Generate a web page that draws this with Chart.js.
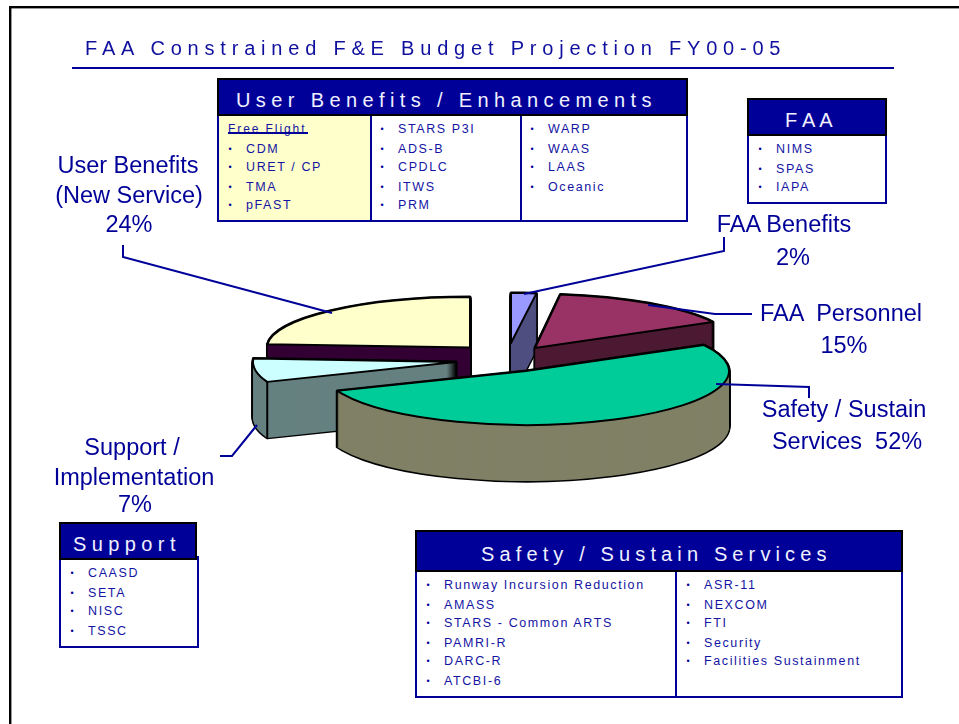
<!DOCTYPE html>
<html><head><meta charset="utf-8">
<script src="https://cdn.jsdelivr.net/npm/chart.js@4"></script>
<style>
html,body{margin:0;padding:0;background:#fff;width:959px;height:724px;overflow:hidden}
#stage{position:relative;width:959px;height:724px;font-family:"Liberation Sans",Arial,sans-serif;color:#000099}
#stage canvas{position:absolute;left:0;top:0}
.t{position:absolute;white-space:pre;line-height:normal}
.b{position:absolute;box-sizing:border-box}
</style></head><body>
<div id="stage"><canvas id="c" width="959" height="724"></canvas></div>
<script>
// ---- data ----
const categories = ["FAA Benefits","FAA Personnel","Safety / Sustain Services","Support / Implementation","User Benefits (New Service)"];
const shares = [2,15,52,7,24];
const topColors  = ["#9999ff","#993366","#00cc99","#ccffff","#ffffcc"];
const sideColors = ["#4f4f80","#4d1a33","#808066","#668080","#330033"];

const title = "FAA Constrained F&E Budget Projection FY00-05";
const userHead = "User Benefits / Enhancements";
const userCol1Head = "Free Flight";
const userCol1 = ["CDM","URET / CP","TMA","pFAST"];
const userCol2 = ["STARS P3I","ADS-B","CPDLC","ITWS","PRM"];
const userCol3 = ["WARP","WAAS","LAAS","Oceanic"];
const faaHead = "F A A";
const faaItems = ["NIMS","SPAS","IAPA"];
const supportHead = "Support";
const supportItems = ["CAASD","SETA","NISC","TSSC"];
const safetyHead = "Safety / Sustain Services";
const safetyCol1 = ["Runway Incursion Reduction","AMASS","STARS - Common ARTS","PAMRI-R","DARC-R","ATCBI-6"];
const safetyCol2 = ["ASR-11","NEXCOM","FTI","Security","Facilities Sustainment"];

// ---- layout of the exploded 3-D pie (styling, not data) ----
const PIE_RADIUS = 203, DEPTH = 56;
const sliceCentre = [[511,343,50],[535,348,54],[526,371,54],[456,362,54],[470,347.5,50.5]]; // x, y, vertical radius
const paintOrder = [4,0,1,3,2];
const frontEdge = [3];
const NAVY = "#000099";
const leaders = [
  [[123,245],[123,257],[332,313]],
  [[724,237],[724,251],[524,294]],
  [[752,314],[715,314],[648,305]],
  [[809,398],[809,387],[716,384]],
  [[220,456],[232,456],[257,425]]
];

const pie3d = {
  id:"pie3d",
  beforeDatasetsDraw(chart){
    const ctx = chart.ctx, arcs = chart.getDatasetMeta(0).data;
    const nativeStroke = ctx.stroke;
    // keep outlines an even thickness although the arc is drawn in a squashed space
    ctx.stroke = function(){ ctx.save(); ctx.setTransform(1,0,0,1,0,0); nativeStroke.call(ctx); ctx.restore(); };
    const stamp = (arc,i,d,fill,line,w)=>{
      const [tx,ty,ry] = sliceCentre[i], keep = arc.options;
      arc.options = {backgroundColor:fill,borderColor:line,borderWidth:w,borderAlign:"center",borderJoinStyle:"round",
        borderDash:[],borderDashOffset:0,offset:0,spacing:0,circular:true,selfJoin:false,borderRadius:0};
      ctx.save();
      ctx.translate(tx,ty+d);
      ctx.scale(1,ry/arc.outerRadius);
      ctx.translate(-arc.x,-arc.y);
      arc.draw(ctx);
      ctx.restore();
      arc.options = keep;
    };
    paintOrder.forEach(i=>{
      const arc = arcs[i], [tx,ty,ry] = sliceCentre[i];
      for(let d=DEPTH;d>=0;d--) stamp(arc,i,d,"#000","#000",3);
      for(let d=DEPTH;d>=0;d--) stamp(arc,i,d,sideColors[i],"#000",0);
      if(frontEdge.includes(i)){
        const x = tx+PIE_RADIUS*Math.cos(arc.startAngle), y = ty+ry*Math.sin(arc.startAngle);
        ctx.save(); ctx.strokeStyle="#000"; ctx.lineWidth=2;
        ctx.beginPath(); ctx.moveTo(x,y); ctx.lineTo(x,y+DEPTH); nativeStroke.call(ctx); ctx.restore();
      }
      stamp(arc,i,0,topColors[i],"#000",2);
    });
    delete ctx.stroke;
    // frame
    ctx.save();
    ctx.fillStyle="#000";
    ctx.fillRect(9,6,950,2.4); ctx.fillRect(9,6,2.4,718);
    ctx.fillStyle=NAVY; ctx.fillRect(72,67,822,2);
    ctx.strokeStyle=NAVY; ctx.lineWidth=2; ctx.lineJoin="miter";
    leaders.forEach(p=>{ctx.beginPath();p.forEach((q,k)=>k?ctx.lineTo(q[0],q[1]):ctx.moveTo(q[0],q[1]));ctx.stroke();});
    ctx.restore();
    return false;
  }
};

new Chart(document.getElementById("c"),{
  type:"pie",
  data:{labels:categories,datasets:[{data:shares,backgroundColor:topColors,borderWidth:0,radius:PIE_RADIUS}]},
  options:{responsive:false,animation:false,events:[],rotation:0,layout:{padding:0},
    plugins:{legend:{display:false},tooltip:{enabled:false},title:{display:false}}},
  plugins:[pie3d]
});

// ---- boxes and text as real DOM text ----
const stage = document.getElementById("stage");
function rect(x0,y0,x1,y1,bg,bc,bw){
  const e=document.createElement("div");e.className="b";
  e.style.cssText=`left:${x0}px;top:${y0}px;width:${x1-x0}px;height:${y1-y0}px;background:${bg};border:${bw}px solid ${bc}`;
  stage.appendChild(e);
}
function text(s,x,base,size,ls,color,anchor){
  const e=document.createElement("div");e.className="t";e.textContent=s;
  e.style.fontSize=size+"px";e.style.letterSpacing=(ls||0)+"px";e.style.color=color||NAVY;
  e.style.top=(base-0.905*size)+"px";
  if(anchor==="c"){e.style.left=x+"px";e.style.transform="translateX(-50%)";}
  else e.style.left=x+"px";
  stage.appendChild(e);
  return e;
}
function fit(s,x0,x1,base,size,color){
  const e=text(s,x0,base,size,0,color);
  const w=e.getBoundingClientRect().width;
  // the measured box carries a trailing letter gap and a side bearing, so stop a little short
  e.style.letterSpacing=((x1-x0-w-2.5)/(s.length-1))+"px";
}
function list(items,bx,tx,bases){
  items.forEach((s,i)=>{
    text("\u2022",bx-1.6,bases[i]-1.5,9,0,NAVY);
    text(s,tx,bases[i],12.5,1.6,"#1414a3");
  });
}
const rows=[133.3,153.3,171.3,191.3,209.3];

fit(title,85,783,55,20,"#10109f");

// user box
rect(217,114,688,222,"#fff",NAVY,2);
rect(219,116,370,220,"#ffffcc",NAVY,0);
rect(369.5,116,371.5,220,NAVY,NAVY,0);
rect(519.5,116,521.5,220,NAVY,NAVY,0);
rect(217,78,688,116,NAVY,"#000",2);
fit(userHead,236,654,107,20,"#f0f0ff");
fit(userCol1Head,228,307,133.3,12,"#1414a3");
rect(228,132,308,134,NAVY,NAVY,0);
list(userCol1,230,246,rows.slice(1));
list(userCol2,382,398,rows);
list(userCol3,532,548,rows);

// FAA box
rect(747,134,887,204,"#fff",NAVY,2);
rect(747,98,887,136,NAVY,"#000",2);
fit(faaHead,785,835,127,20,"#f0f0ff");
list(faaItems,760,776,[153.3,173.3,191.3]);

// support box
rect(59,556,199,648,"#fff",NAVY,2);
rect(59,522,197,559.5,NAVY,"#000",2);
fit(supportHead,73,178,551,20,"#f0f0ff");
list(supportItems,72,88,[577.3,597.3,615.3,635.3]);

// safety box
rect(415,570,903,698,"#fff",NAVY,2);
rect(675,572,677,696,NAVY,NAVY,0);
rect(415,530,903,572,NAVY,"#000",2);
fit(safetyHead,481,829,561,20,"#f0f0ff");
const safetyRows=[589.3,609.3,627.3,647.3,665.3,685.3];
list(safetyCol1,428,444,safetyRows);
list(safetyCol2,688,704,safetyRows);

// pie labels
const L=23.5;
text("User Benefits",128,173,L,0,NAVY,"c");
text("(New Service)",129,203,L,0,NAVY,"c");
text("24%",129,232,L,0,NAVY,"c");
text("FAA Benefits",784,232,L,0,NAVY,"c");
text("2%",793,265,L,0,NAVY,"c");
text("FAA  Personnel",841,321,L,0,NAVY,"c");
text("15%",844,353,L,0,NAVY,"c");
text("Safety / Sustain",844,417,L,0,NAVY,"c");
text("Services  52%",847,449,L,0,NAVY,"c");
text("Support /",132,455,L,0,NAVY,"c");
text("Implementation",134,485,L,0,NAVY,"c");
text("7%",135,512,L,0,NAVY,"c");
</script>
</body></html>
